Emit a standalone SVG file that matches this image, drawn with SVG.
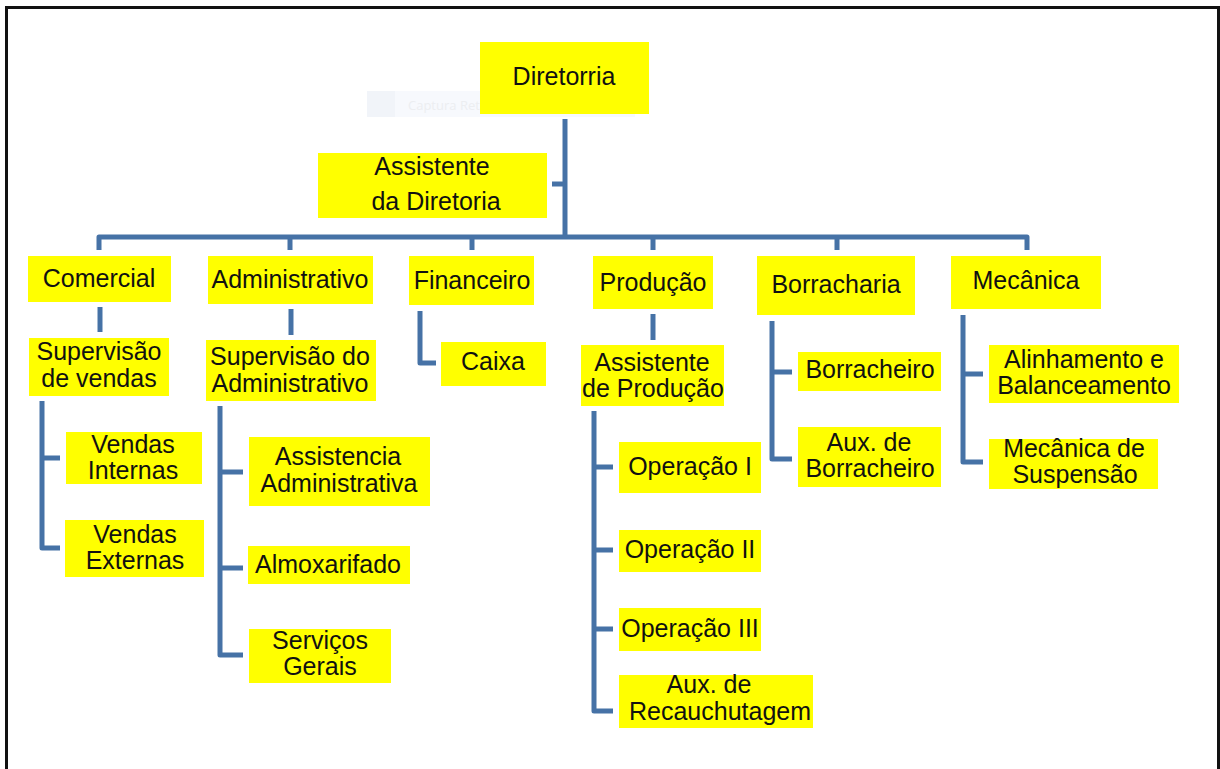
<svg xmlns="http://www.w3.org/2000/svg" width="1220" height="769" viewBox="0 0 1220 769">
<style>
.box{fill:#ffff00}
.t{font-family:"Liberation Sans",Arial,sans-serif;font-size:25px;fill:#111;text-anchor:middle}
.c{fill:none;stroke:#4672a6;stroke-width:5;stroke-linejoin:round}
</style>
<rect x="0" y="0" width="1220" height="769" fill="#fff"/>
<path d="M6.5,780 V7.5 H1218.5 V780" fill="none" stroke="#111" stroke-width="3"/>
<g id="overlay">
<rect x="367" y="91" width="268" height="26" fill="#f7f9fd"/>
<rect x="367" y="91" width="28" height="26" fill="#f1f4f9"/>
<text x="408" y="110" font-family="'Open Sans','Liberation Sans',sans-serif" font-size="13" fill="#eceef1">Captura Retangular</text>
</g>
<g id="connectors">
<path class="c" d="M565,119 V237"/>
<path class="c" d="M552,184 H565"/>
<path class="c" d="M99,250 V237 H1027 V250"/>
<path class="c" d="M290,237 V250 M472,237 V250 M653,237 V250 M837,237 V250"/>
<path class="c" d="M100,307 V332"/>
<path class="c" d="M42,401 V548 H60 M42,458 H60"/>
<path class="c" d="M291,309 V335"/>
<path class="c" d="M220,406 V655 H243 M220,472 H243 M220,568 H243"/>
<path class="c" d="M420,311 V363 H436"/>
<path class="c" d="M653,314 V340"/>
<path class="c" d="M594,411 V711 H613 M594,467 H613 M594,550 H613 M594,629 H613"/>
<path class="c" d="M772,321 V459 H792 M772,372 H792"/>
<path class="c" d="M963,315 V462 H983 M963,374 H983"/>
</g>
<g id="diretorria"><rect class="box" x="480" y="42" width="169" height="72"/><text class="t" x="564" y="85">Diretorria</text></g>
<g id="assistente-diretoria"><rect class="box" x="318" y="153" width="229" height="65"/><text class="t" x="432" y="175">Assistente</text><text class="t" x="436" y="210">da Diretoria</text></g>
<g id="comercial"><rect class="box" x="28" y="256" width="143" height="46"/><text class="t" x="99" y="287">Comercial</text></g>
<g id="administrativo"><rect class="box" x="208" y="256" width="165" height="48"/><text class="t" x="290" y="288">Administrativo</text></g>
<g id="financeiro"><rect class="box" x="409" y="256" width="125" height="49"/><text class="t" x="472" y="289">Financeiro</text></g>
<g id="producao"><rect class="box" x="593" y="256" width="120" height="53"/><text class="t" x="653" y="291">Produção</text></g>
<g id="borracharia"><rect class="box" x="757" y="256" width="158" height="59"/><text class="t" x="836" y="293">Borracharia</text></g>
<g id="mecanica"><rect class="box" x="951" y="256" width="150" height="53"/><text class="t" x="1026" y="289">Mecânica</text></g>
<g id="supervisao-vendas"><rect class="box" x="29" y="338" width="140" height="58"/><text class="t" x="99" y="360">Supervisão</text><text class="t" x="99" y="387">de vendas</text></g>
<g id="vendas-internas"><rect class="box" x="66" y="432" width="136" height="52"/><text class="t" x="133" y="453">Vendas</text><text class="t" x="133" y="479">Internas</text></g>
<g id="vendas-externas"><rect class="box" x="65" y="520" width="139" height="57"/><text class="t" x="135" y="543">Vendas</text><text class="t" x="135" y="569">Externas</text></g>
<g id="supervisao-adm"><rect class="box" x="206" y="340" width="170" height="61"/><text class="t" x="290" y="365">Supervisão do</text><text class="t" x="290" y="392">Administrativo</text></g>
<g id="assistencia-adm"><rect class="box" x="249" y="437" width="181" height="69"/><text class="t" x="338" y="465">Assistencia</text><text class="t" x="339" y="492">Administrativa</text></g>
<g id="almoxarifado"><rect class="box" x="248" y="546" width="162" height="38"/><text class="t" x="328" y="573">Almoxarifado</text></g>
<g id="servicos-gerais"><rect class="box" x="249" y="629" width="142" height="54"/><text class="t" x="320" y="649">Serviços</text><text class="t" x="320" y="675">Gerais</text></g>
<g id="caixa"><rect class="box" x="441" y="342" width="105" height="44"/><text class="t" x="493" y="370">Caixa</text></g>
<g id="assistente-producao"><rect class="box" x="581" y="345" width="143" height="61"/><text class="t" x="652" y="371">Assistente</text><text class="t" x="653" y="397">de Produção</text></g>
<g id="operacao-1"><rect class="box" x="619" y="442" width="142" height="51"/><text class="t" x="690" y="475">Operação I</text></g>
<g id="operacao-2"><rect class="box" x="619" y="530" width="142" height="42"/><text class="t" x="690" y="558">Operação II</text></g>
<g id="operacao-3"><rect class="box" x="619" y="608" width="142" height="43"/><text class="t" x="690" y="637">Operação III</text></g>
<g id="aux-recauchutagem"><rect class="box" x="619" y="675" width="194" height="53"/><text class="t" x="709" y="693">Aux. de</text><text class="t" x="720" y="720">Recauchutagem</text></g>
<g id="borracheiro"><rect class="box" x="798" y="352" width="143" height="39"/><text class="t" x="870" y="378">Borracheiro</text></g>
<g id="aux-borracheiro"><rect class="box" x="798" y="427" width="143" height="60"/><text class="t" x="869" y="451">Aux. de</text><text class="t" x="870" y="477">Borracheiro</text></g>
<g id="alinhamento"><rect class="box" x="989" y="345" width="190" height="58"/><text class="t" x="1084" y="368">Alinhamento e</text><text class="t" x="1084" y="394">Balanceamento</text></g>
<g id="mecanica-suspensao"><rect class="box" x="989" y="439" width="169" height="50"/><text class="t" x="1074" y="457">Mecânica de</text><text class="t" x="1075" y="483">Suspensão</text></g>
</svg>
